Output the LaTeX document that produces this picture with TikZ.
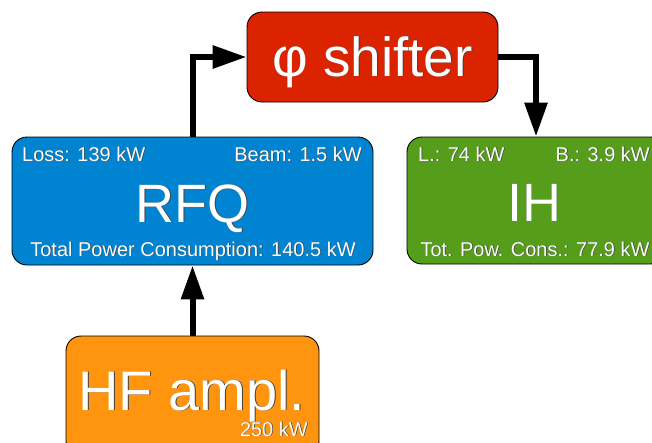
\documentclass[tikz,border=0pt]{standalone}
\usepackage{fontspec}
\setmainfont{Liberation Sans}
\usetikzlibrary{arrows.meta}
\definecolor{phired}{HTML}{DC2300}
\definecolor{rfqblue}{HTML}{0084D1}
\definecolor{ihgreen}{HTML}{579D1C}
\definecolor{hforange}{HTML}{FF950E}
% white lettering with a faint dark drop shadow
\newcommand{\shtxt}[1]{\makebox[0pt][l]{\hspace{0.7pt}\raisebox{-0.7pt}{\color{black!75}#1}}{\color{white}#1}}
\tikzset{
  blk/.style={draw=black, line width=0.9pt, rounded corners=15pt, inner sep=0pt},
  conn/.style={line width=6pt, line join=miter, -{Triangle[length=34pt,width=22pt]}},
  big/.style={font=\fontsize{54}{54}\selectfont, inner sep=0pt},
  small/.style={font=\fontsize{20}{20}\selectfont, inner sep=0pt},
}
\begin{document}
\begin{tikzpicture}[x=1pt,y=-1pt]
\useasboundingbox (0,0) rectangle (652,442);
% blocks
\node[blk, fill=phired, minimum width=251pt, minimum height=90pt] (phi) at (372.5,57) {};
\node[blk, fill=rfqblue, minimum width=361pt, minimum height=128pt] (rfq) at (192.5,201) {};
\node[blk, fill=ihgreen, minimum width=258pt, minimum height=127pt] (ih) at (536,200.5) {};
\node[blk, fill=hforange, minimum width=253pt, minimum height=120pt] (hf) at (192.5,396) {};
% phase shifter
\node[big, font=\fontsize{55}{55}\selectfont, anchor=base] (phit) at (372.5,76) {\shtxt{φ shifter}};
% RFQ
\node[small, anchor=base west] (rfql) at (22,161) {\shtxt{Loss: 139 kW}};
\node[small, anchor=base east] (rfqb) at (362,161) {\shtxt{Beam: 1.5 kW}};
\node[big, anchor=base] (rfqt) at (192.5,222) {\shtxt{RFQ}};
\node[small, anchor=base] (rfqp) at (193,256) {\shtxt{Total Power Consumption: 140.5 kW}};
% IH
\node[small, anchor=base west] (ihl) at (418,161) {\shtxt{L.: 74 kW}};
\node[small, anchor=base east] (ihb) at (650,161) {\shtxt{B.: 3.9 kW}};
\node[big, anchor=base] (iht) at (534,221) {\shtxt{IH}};
\node[small, anchor=base] (ihp) at (535,256) {\shtxt{Tot. Pow. Cons.: 77.9 kW}};
% HF amplifier
\node[big, font=\fontsize{56}{56}\selectfont, anchor=base] (hft) at (192,410) {\shtxt{HF ampl.}};
\node[small, anchor=base east] (hfp) at (308,436) {\shtxt{250 kW}};
% connectors
\draw[conn] (rfq.north) |- (phi.west);
\draw[conn] (phi.east) -| (ih.north);
\draw[conn] (hf.north) -- (rfq.south);
\end{tikzpicture}
\end{document}
